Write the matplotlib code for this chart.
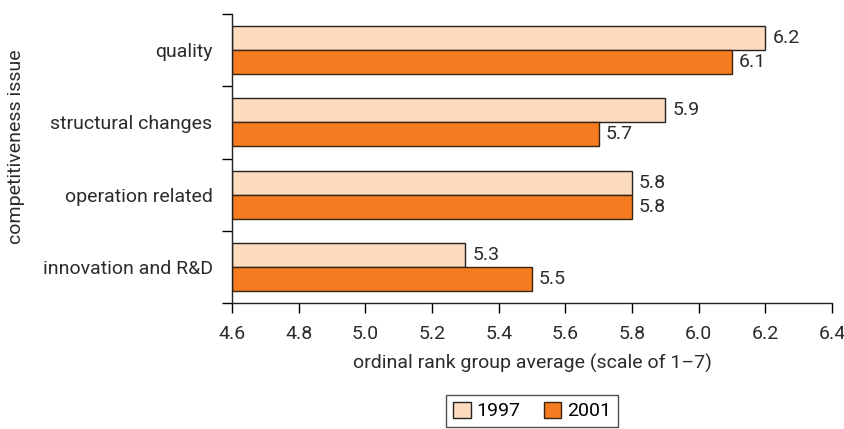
import matplotlib.pyplot as plt
import numpy as np

plt.rcParams['font.family'] = ['Liberation Sans Narrow', 'Roboto', 'DejaVu Sans']

categories = ["quality", "structural changes", "operation related", "innovation and R&D"]
vals_1997 = [6.2, 5.9, 5.8, 5.3]
vals_2001 = [6.1, 5.7, 5.8, 5.5]
years = ["1997", "2001"]
xticks = [4.6, 4.8, 5.0, 5.2, 5.4, 5.6, 5.8, 6.0, 6.2, 6.4]

light = "#FDDBBF"
dark = "#F47B20"
txt = "#2b2b2b"

fig = plt.figure(figsize=(8.45, 4.29), dpi=100)
ax = fig.add_axes([232 / 845, 1 - 303 / 429, 600 / 845, 289 / 429])

n = len(categories)
ypos = np.arange(n)[::-1]  # quality at top
h = 1 / 3
b1 = ax.barh(ypos + h / 2, np.array(vals_1997) - 4.6, left=4.6, height=h,
             color=light, edgecolor="#222222", linewidth=1, label=years[0])
b2 = ax.barh(ypos - h / 2, np.array(vals_2001) - 4.6, left=4.6, height=h,
             color=dark, edgecolor="#3a2410", linewidth=1, label=years[1])

for bars, vals in ((b1, vals_1997), (b2, vals_2001)):
    for rect, v in zip(bars, vals):
        ax.annotate(f"{v:.1f}", (v, rect.get_y() + rect.get_height() / 2),
                    xytext=(5, 0), textcoords="offset points",
                    va="center", ha="left", fontsize=14, color=txt)

ax.set_xlim(4.6, 6.4)
ax.set_ylim(-0.5, n - 0.5)
ax.set_xticks(xticks)
ax.set_xticklabels([f"{t:.1f}" for t in xticks])
ax.set_yticks(np.arange(n + 1) - 0.5)
ax.set_yticklabels([])
ax.set_yticks(ypos, minor=True)
ax.set_yticklabels(categories, minor=True)
ax.tick_params(axis="y", which="minor", length=0, pad=14, labelsize=14, labelcolor=txt)
ax.tick_params(axis="y", which="major", length=7.5, width=1, direction="out")
ax.tick_params(axis="x", length=7.5, width=1, direction="out", labelsize=14,
               labelcolor=txt, pad=8)

for s in ("top", "right"):
    ax.spines[s].set_visible(False)
for s in ("left", "bottom"):
    ax.spines[s].set_linewidth(1)
    ax.spines[s].set_color("#222222")

ax.set_xlabel("ordinal rank group average (scale of 1\u20137)", fontsize=14,
              color=txt, labelpad=8)
ax.set_ylabel("competitiveness issue", fontsize=14, color=txt)
ax.yaxis.set_label_coords(-0.345, 0.54)

fig.legend(handles=[b1, b2], labels=years, loc="center",
           bbox_to_anchor=(532 / 845, 1 - 411 / 429), ncol=2, frameon=True,
           fancybox=False, edgecolor="#222222", fontsize=14,
           handlelength=0.9, handleheight=0.9, columnspacing=1.2,
           handletextpad=0.3, borderpad=0.35, borderaxespad=0)

fig.savefig("out.png", dpi=100)
